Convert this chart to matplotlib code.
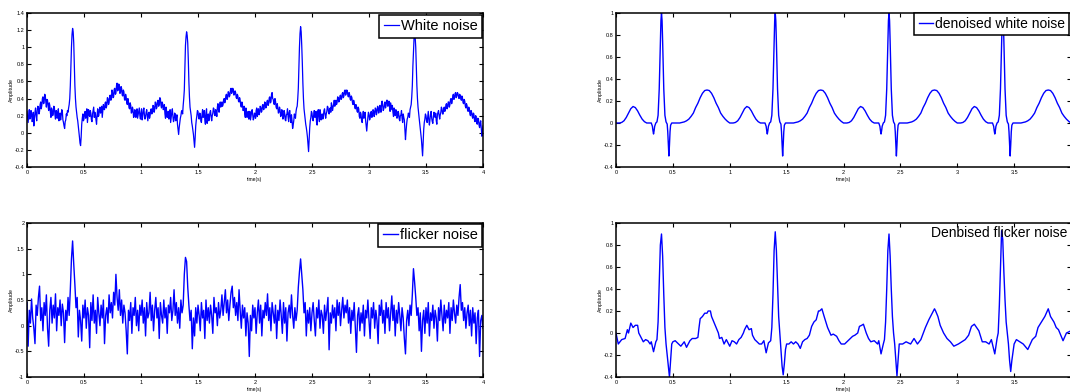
import numpy as np
import matplotlib
matplotlib.use("Agg")
import matplotlib.pyplot as plt
from matplotlib.ticker import FuncFormatter

plt.rcParams['font.family'] = ['Liberation Sans', 'DejaVu Sans']
plt.rcParams['axes.unicode_minus'] = False

# ---- data ---------------------------------------------------------------

# ECG + white noise, one sample every 5 ms from 0 to 4 s
white_noise = [
    0.25, 0.18, 0.12, 0.21, 0.27, 0.16, 0.18, 0.26, 0.22, 0.13, 0.15, 0.24, 0.08, 0.17, 0.24, 0.29, 0.20, 0.14, 0.26, 0.31,
    0.30, 0.22, 0.25, 0.33, 0.36, 0.28, 0.32, 0.40, 0.42, 0.34, 0.35, 0.45, 0.44, 0.36, 0.30, 0.39, 0.38, 0.31, 0.26, 0.35,
    0.32, 0.24, 0.18, 0.29, 0.27, 0.20, 0.22, 0.31, 0.30, 0.21, 0.16, 0.26, 0.25, 0.17, 0.20, 0.28, 0.14, 0.19, 0.23, 0.15,
    0.20, 0.27, 0.25, 0.15, 0.12, 0.08, 0.05, 0.13, 0.15, 0.22, 0.20, 0.26, 0.24, 0.29, 0.33, 0.40, 0.55, 0.78, 1.00, 1.15,
    1.22, 1.18, 1.05, 0.80, 0.55, 0.40, 0.30, 0.24, 0.18, 0.14, 0.08, 0.02, -0.05, -0.12, -0.15, -0.05, 0.10, 0.17, 0.22, 0.14,
    0.16, 0.23, 0.25, 0.17, 0.20, 0.28, 0.12, 0.19, 0.27, 0.21, 0.19, 0.26, 0.23, 0.15, 0.13, 0.22, 0.26, 0.30, 0.18, 0.24,
    0.22, 0.15, 0.10, 0.21, 0.28, 0.19, 0.20, 0.27, 0.30, 0.23, 0.24, 0.31, 0.18, 0.26, 0.33, 0.28, 0.27, 0.35, 0.36, 0.29,
    0.32, 0.41, 0.40, 0.33, 0.35, 0.43, 0.44, 0.38, 0.39, 0.50, 0.48, 0.41, 0.42, 0.51, 0.52, 0.45, 0.46, 0.55, 0.58, 0.49,
    0.50, 0.57, 0.55, 0.46, 0.47, 0.54, 0.52, 0.44, 0.43, 0.50, 0.48, 0.39, 0.38, 0.45, 0.42, 0.35, 0.33, 0.40, 0.36, 0.29,
    0.28, 0.35, 0.32, 0.23, 0.24, 0.30, 0.27, 0.18, 0.19, 0.27, 0.26, 0.18, 0.22, 0.28, 0.17, 0.21, 0.25, 0.29, 0.20, 0.16,
    0.23, 0.28, 0.15, 0.19, 0.26, 0.29, 0.21, 0.16, 0.18, 0.24, 0.27, 0.20, 0.14, 0.22, 0.24, 0.17, 0.20, 0.27, 0.28, 0.22,
    0.25, 0.32, 0.31, 0.24, 0.27, 0.36, 0.35, 0.28, 0.30, 0.37, 0.38, 0.31, 0.33, 0.41, 0.40, 0.32, 0.29, 0.36, 0.34, 0.27,
    0.28, 0.33, 0.22, 0.17, 0.30, 0.25, 0.18, 0.24, 0.25, 0.16, 0.20, 0.27, 0.12, 0.18, 0.24, 0.28, 0.19, 0.13, 0.15, 0.23,
    0.22, 0.14, 0.16, 0.21, 0.10, 0.04, -0.02, 0.06, 0.12, 0.17, 0.20, 0.25, 0.26, 0.22, 0.32, 0.40, 0.50, 0.75, 1.02, 1.12,
    1.18, 1.14, 1.05, 0.85, 0.60, 0.42, 0.30, 0.25, 0.20, 0.12, 0.08, 0.03, -0.02, -0.10, -0.17, -0.06, 0.08, 0.15, 0.20, 0.26,
    0.25, 0.18, 0.16, 0.23, 0.22, 0.14, 0.12, 0.21, 0.27, 0.18, 0.20, 0.26, 0.15, 0.10, 0.24, 0.28, 0.11, 0.16, 0.22, 0.14,
    0.18, 0.24, 0.26, 0.19, 0.14, 0.20, 0.23, 0.29, 0.28, 0.21, 0.20, 0.27, 0.25, 0.19, 0.30, 0.34, 0.27, 0.24, 0.32, 0.36,
    0.30, 0.34, 0.36, 0.31, 0.33, 0.39, 0.40, 0.35, 0.38, 0.44, 0.45, 0.39, 0.41, 0.48, 0.47, 0.42, 0.44, 0.50, 0.52, 0.46,
    0.48, 0.52, 0.50, 0.44, 0.45, 0.49, 0.47, 0.41, 0.40, 0.45, 0.43, 0.37, 0.36, 0.41, 0.38, 0.32, 0.30, 0.36, 0.33, 0.26,
    0.27, 0.31, 0.22, 0.18, 0.29, 0.24, 0.18, 0.23, 0.25, 0.16, 0.20, 0.25, 0.15, 0.19, 0.24, 0.27, 0.21, 0.15, 0.17, 0.23,
    0.22, 0.17, 0.26, 0.29, 0.19, 0.24, 0.28, 0.21, 0.23, 0.31, 0.30, 0.24, 0.25, 0.32, 0.33, 0.27, 0.28, 0.36, 0.35, 0.29,
    0.31, 0.37, 0.38, 0.32, 0.34, 0.41, 0.42, 0.35, 0.36, 0.45, 0.47, 0.40, 0.39, 0.34, 0.33, 0.40, 0.37, 0.30, 0.28, 0.34,
    0.30, 0.23, 0.24, 0.30, 0.27, 0.19, 0.20, 0.27, 0.25, 0.16, 0.18, 0.26, 0.23, 0.15, 0.14, 0.21, 0.22, 0.28, 0.19, 0.13,
    0.24, 0.26, 0.17, 0.12, 0.21, 0.14, 0.05, 0.09, 0.14, 0.22, 0.20, 0.17, 0.25, 0.29, 0.31, 0.40, 0.52, 0.78, 1.00, 1.16,
    1.24, 1.18, 1.02, 0.82, 0.58, 0.40, 0.28, 0.22, 0.16, 0.10, 0.06, 0.01, -0.05, -0.14, -0.22, -0.08, 0.06, 0.14, 0.18, 0.25,
    0.23, 0.16, 0.14, 0.21, 0.26, 0.18, 0.19, 0.25, 0.12, 0.09, 0.24, 0.27, 0.18, 0.13, 0.27, 0.23, 0.15, 0.20, 0.22, 0.16,
    0.20, 0.26, 0.28, 0.21, 0.17, 0.22, 0.25, 0.31, 0.30, 0.24, 0.22, 0.28, 0.29, 0.24, 0.35, 0.32, 0.26, 0.30, 0.33, 0.38,
    0.31, 0.35, 0.38, 0.33, 0.35, 0.42, 0.41, 0.36, 0.37, 0.43, 0.44, 0.39, 0.40, 0.46, 0.47, 0.41, 0.43, 0.49, 0.50, 0.44,
    0.46, 0.50, 0.49, 0.43, 0.42, 0.47, 0.45, 0.39, 0.38, 0.43, 0.41, 0.35, 0.33, 0.38, 0.36, 0.30, 0.28, 0.33, 0.31, 0.25,
    0.24, 0.30, 0.28, 0.19, 0.17, 0.24, 0.22, 0.14, 0.12, 0.20, 0.25, 0.17, 0.20, 0.24, 0.15, 0.08, 0.02, 0.10, 0.18, 0.24,
    0.22, 0.15, 0.17, 0.23, 0.25, 0.18, 0.20, 0.27, 0.26, 0.19, 0.22, 0.29, 0.28, 0.21, 0.24, 0.31, 0.30, 0.23, 0.26, 0.32,
    0.29, 0.24, 0.34, 0.37, 0.31, 0.26, 0.28, 0.34, 0.36, 0.29, 0.32, 0.38, 0.38, 0.31, 0.33, 0.37, 0.30, 0.25, 0.35, 0.31,
    0.27, 0.32, 0.24, 0.19, 0.29, 0.24, 0.20, 0.27, 0.26, 0.17, 0.18, 0.25, 0.23, 0.16, 0.14, 0.20, 0.21, 0.26, 0.17, 0.12,
    0.22, 0.18, 0.15, 0.04, -0.08, 0.02, 0.10, 0.16, 0.18, 0.23, 0.22, 0.18, 0.27, 0.30, 0.33, 0.42, 0.55, 0.78, 0.95, 1.10,
    1.18, 1.12, 1.00, 0.78, 0.55, 0.40, 0.30, 0.23, 0.17, 0.11, 0.05, -0.02, -0.08, -0.18, -0.27, -0.10, 0.04, 0.12, 0.16, 0.22,
    0.20, 0.14, 0.12, 0.19, 0.25, 0.15, 0.09, 0.16, 0.22, 0.25, 0.17, 0.13, 0.11, 0.19, 0.24, 0.20, 0.18, 0.23, 0.14, 0.10,
    0.21, 0.24, 0.26, 0.20, 0.16, 0.21, 0.24, 0.30, 0.28, 0.22, 0.22, 0.28, 0.30, 0.25, 0.27, 0.33, 0.34, 0.28, 0.30, 0.36,
    0.36, 0.30, 0.33, 0.39, 0.40, 0.34, 0.37, 0.43, 0.45, 0.39, 0.41, 0.46, 0.47, 0.41, 0.43, 0.47, 0.46, 0.42, 0.40, 0.45,
    0.44, 0.40, 0.38, 0.43, 0.41, 0.35, 0.34, 0.39, 0.37, 0.31, 0.29, 0.34, 0.32, 0.26, 0.25, 0.30, 0.28, 0.22, 0.20, 0.26,
    0.24, 0.19, 0.17, 0.23, 0.22, 0.15, 0.13, 0.20, 0.19, 0.11, 0.10, 0.17, 0.16, 0.09, 0.06, 0.12, 0.14, 0.05, -0.04, 0.03,
    0.08,
]

# ECG + flicker noise, one sample every 10 ms
flicker_noise = [
    0.45, -0.40, 0.30, 0.05, 0.52, 0.15, -0.05, -0.35, 0.40, 0.20,
    0.55, 0.77, 0.10, 0.35, -0.10, 0.45, 0.20, 0.60, -0.05, -0.40,
    0.30, 0.55, 0.05, 0.40, 0.15, 0.62, -0.10, 0.35, 0.20, 0.50,
    0.00, 0.42, 0.25, -0.33, 0.30, 0.10, 0.55, 0.20, 0.70, 1.30,
    1.65, 1.20, 0.80, 0.35, 0.55, -0.22, 0.30, 0.10, -0.30, 0.40,
    0.15, 0.50, -0.05, 0.35, 0.20, -0.43, 0.45, 0.10, 0.60, 0.05,
    0.30, -0.15, 0.55, 0.25, 0.00, 0.40, 0.15, 0.50, -0.35, 0.20,
    0.35, 0.05, 0.60, 0.25, 0.45, 0.15, 0.65, 0.40, 1.00, 0.55,
    0.30, 0.70, 0.20, 0.50, 0.05, 0.40, 0.25, -0.10, -0.55, 0.30,
    0.10, 0.45, -0.15, 0.35, 0.20, 0.55, 0.00, 0.30, -0.10, 0.40,
    0.20, 0.50, 0.05, 0.35, -0.20, 0.45, 0.15, 0.25, 0.65, 0.10,
    0.40, -0.10, 0.30, 0.55, 0.15, 0.35, -0.25, 0.45, 0.20, 0.05,
    0.50, 0.15, 0.35, -0.15, 0.40, 0.25, 0.55, 0.10, 0.30, 0.70,
    0.20, 0.45, 0.05, 0.35, -0.05, 0.50, 0.25, 0.40, 1.00, 1.33,
    1.25, 0.75, 0.40, 0.10, 0.30, -0.45, 0.15, -0.20, 0.35, 0.05,
    0.40, 0.20, -0.10, 0.45, 0.15, 0.30, -0.25, 0.50, 0.10, 0.35,
    0.05, 0.40, 0.20, -0.15, 0.55, 0.25, 0.35, 0.00, 0.45, 0.15,
    0.30, 0.60, 0.20, 0.45, 0.70, 0.25, 0.50, 0.10, 0.40, 0.65,
    0.77, 0.35, 0.55, 0.20, 0.45, 0.10, 0.70, 0.30, -0.05, 0.40,
    0.15, 0.35, -0.20, 0.25, 0.05, -0.60, 0.20, -0.10, 0.40, 0.15,
    0.35, -0.15, 0.25, 0.50, 0.05, 0.40, -0.20, 0.30, 0.15, 0.45,
    0.20, 0.62, 0.10, 0.35, -0.10, 0.45, 0.25, 0.05, 0.40, -0.25,
    0.30, 0.10, 0.50, 0.20, -0.15, 0.45, 0.05, 0.35, -0.30, 0.25,
    0.40, 0.15, 0.60, 0.20, -0.05, 0.35, 0.10, 0.30, 0.75, 1.05,
    1.30, 1.00, 0.70, 0.25, 0.45, -0.20, 0.30, 0.05, 0.35, -0.10,
    0.25, 0.45, 0.10, -0.20, 0.35, 0.15, 0.50, -0.05, 0.30, 0.20,
    -0.15, 0.40, 0.10, 0.30, 0.55, -0.47, 0.25, 0.05, 0.40, 0.15,
    0.35, -0.10, 0.50, 0.20, 0.45, 0.00, 0.30, 0.55, 0.15, 0.40,
    0.25, 0.50, 0.05, 0.35, -0.15, 0.30, 0.10, 0.45, -0.05, -0.52,
    0.20, 0.35, -0.10, 0.25, 0.05, 0.40, -0.20, 0.30, 0.15, 0.50,
    0.10, -0.25, 0.35, 0.15, 0.45, -0.05, 0.30, 0.10, -0.35, 0.40,
    0.20, 0.50, 0.05, 0.30, -0.15, 0.45, 0.15, 0.35, -0.10, 0.25,
    0.58, 0.10, 0.40, -0.20, 0.30, 0.05, 0.45, 0.20, -0.10, 0.35,
    0.15, -0.25, -0.55, 0.10, 0.30, 0.00, 0.40, 0.20, 0.60, 1.11,
    0.85, 0.55, 0.20, 0.35, -0.10, 0.25, -0.50, 0.10, 0.30, -0.15,
    0.35, 0.05, 0.45, -0.20, 0.25, 0.10, 0.40, -0.05, 0.30, 0.15,
    -0.30, 0.35, 0.10, 0.50, 0.20, -0.10, 0.40, 0.05, 0.30, 0.15,
    0.45, -0.15, 0.35, 0.10, 0.50, 0.25, 0.05, 0.40, 0.20, 0.55,
    0.80, 0.30, 0.45, 0.10, 0.35, -0.05, 0.25, 0.40, 0.00, 0.30,
    -0.20, 0.35, 0.05, 0.25, -0.35, 0.15, 0.30, -0.60, 0.10, 0.20,
    -0.05,
]

# denoised white noise: one clean beat (time within beat, amplitude)
beat_t = [0.00, 0.03, 0.05, 0.07, 0.09, 0.11, 0.13, 0.15, 0.17, 0.19,
          0.21, 0.23, 0.25, 0.27, 0.31, 0.32, 0.325, 0.33, 0.335, 0.34,
          0.35, 0.36, 0.37, 0.38, 0.385, 0.39, 0.395, 0.40, 0.405, 0.41,
          0.415, 0.42, 0.43, 0.44, 0.45, 0.455, 0.46, 0.465, 0.47, 0.475,
          0.48, 0.49, 0.56, 0.58, 0.60, 0.62, 0.64, 0.66, 0.68, 0.70,
          0.72, 0.74, 0.76, 0.78, 0.80, 0.82, 0.84, 0.86, 0.88, 0.90,
          0.92, 0.94, 0.96, 0.98]
beat_v = [0.0, 0.0, 0.005, 0.02, 0.05, 0.09, 0.13, 0.15, 0.14, 0.11,
          0.07, 0.035, 0.012, 0.0, 0.0, -0.03, -0.07, -0.10, -0.07, -0.03,
          0.0, 0.01, 0.07, 0.31, 0.51, 0.74, 0.93, 1.0, 0.93, 0.74,
          0.51, 0.31, 0.07, 0.01, -0.01, -0.08, -0.20, -0.30, -0.20, -0.08,
          -0.02, 0.0, 0.0, 0.005, 0.01, 0.02, 0.035, 0.06, 0.09, 0.14,
          0.18, 0.23, 0.27, 0.295, 0.30, 0.295, 0.27, 0.23, 0.18, 0.14,
          0.09, 0.06, 0.035, 0.015]
beat_onsets = [0, 1, 2, 3]

# denoised flicker noise (time, amplitude)
den_flicker_t = [
    0.00, 0.02, 0.05, 0.08, 0.10, 0.11, 0.13, 0.15, 0.17, 0.19,
    0.20, 0.22, 0.24, 0.26, 0.28, 0.30, 0.31, 0.33, 0.35, 0.36,
    0.37, 0.38, 0.39, 0.40, 0.41, 0.42, 0.43, 0.44, 0.45, 0.46,
    0.47, 0.48, 0.49, 0.50, 0.52, 0.55, 0.57, 0.60, 0.62, 0.65,
    0.67, 0.70, 0.72, 0.73, 0.74, 0.76, 0.78, 0.80, 0.81, 0.83,
    0.84, 0.86, 0.88, 0.90, 0.91, 0.93, 0.95, 0.97, 1.00, 1.02,
    1.04, 1.06, 1.08, 1.10, 1.12, 1.13, 1.15, 1.17, 1.19, 1.20,
    1.22, 1.24, 1.26, 1.28, 1.30, 1.32, 1.34, 1.36, 1.37, 1.38,
    1.39, 1.40, 1.41, 1.42, 1.43, 1.44, 1.45, 1.46, 1.47, 1.48,
    1.49, 1.50, 1.52, 1.54, 1.56, 1.58, 1.60, 1.62, 1.64, 1.66,
    1.68, 1.70, 1.72, 1.74, 1.76, 1.78, 1.79, 1.81, 1.83, 1.86,
    1.89, 1.91, 1.94, 1.96, 1.98, 2.01, 2.05, 2.08, 2.10, 2.125,
    2.14, 2.16, 2.175, 2.20, 2.22, 2.24, 2.27, 2.30, 2.31, 2.33,
    2.35, 2.36, 2.37, 2.38, 2.39, 2.40, 2.41, 2.42, 2.43, 2.44,
    2.45, 2.46, 2.47, 2.48, 2.49, 2.52, 2.55, 2.59, 2.62, 2.65,
    2.68, 2.72, 2.75, 2.78, 2.80, 2.81, 2.83, 2.85, 2.88, 2.91,
    2.94, 2.97, 3.01, 3.04, 3.07, 3.10, 3.125, 3.15, 3.17, 3.19,
    3.22, 3.25, 3.28, 3.30, 3.33, 3.35, 3.36, 3.37, 3.38, 3.39,
    3.40, 3.41, 3.42, 3.43, 3.45, 3.46, 3.47, 3.48, 3.50, 3.52,
    3.55, 3.58, 3.62, 3.66, 3.69, 3.71, 3.74, 3.77, 3.80, 3.82,
    3.85, 3.87, 3.89, 3.91, 3.93, 3.96, 4.00,
]
den_flicker_v = [
    0.00, -0.10, -0.06, -0.05, 0.03, 0.00, 0.09, 0.05, 0.07, 0.07,
    0.00, -0.04, -0.08, -0.06, -0.07, -0.10, -0.08, -0.17, -0.08, -0.06,
    0.10, 0.45, 0.80, 0.90, 0.70, 0.35, 0.05, -0.10, -0.20, -0.30,
    -0.40, -0.25, -0.10, -0.08, -0.07, -0.10, -0.12, -0.08, -0.13, -0.07,
    -0.05, -0.05, -0.04, 0.05, 0.13, 0.15, 0.18, 0.18, 0.20, 0.20,
    0.15, 0.10, 0.05, 0.00, -0.05, -0.04, -0.10, -0.06, -0.12, -0.07,
    -0.08, -0.10, -0.06, -0.04, 0.00, 0.03, 0.07, 0.03, 0.04, -0.02,
    -0.06, -0.08, -0.10, -0.10, -0.07, -0.18, -0.09, -0.07, 0.05, 0.35,
    0.75, 0.92, 0.75, 0.45, 0.15, 0.00, -0.15, -0.30, -0.38, -0.28,
    -0.15, -0.10, -0.10, -0.08, -0.10, -0.08, -0.10, -0.14, -0.08, -0.06,
    -0.05, -0.02, 0.06, 0.10, 0.12, 0.20, 0.20, 0.22, 0.15, 0.05,
    -0.02, -0.01, -0.03, -0.07, -0.10, -0.10, -0.06, -0.03, -0.02, 0.00,
    0.06, 0.07, 0.08, 0.00, -0.05, -0.08, -0.07, -0.10, -0.07, -0.19,
    -0.10, -0.06, 0.10, 0.40, 0.75, 0.90, 0.70, 0.40, 0.15, 0.00,
    -0.10, -0.25, -0.39, -0.25, -0.10, -0.10, -0.08, -0.10, -0.05, -0.10,
    -0.06, 0.05, 0.12, 0.18, 0.22, 0.20, 0.15, 0.07, 0.00, -0.05,
    -0.08, -0.12, -0.10, -0.08, -0.06, -0.02, 0.06, 0.08, 0.05, 0.02,
    -0.08, -0.08, -0.10, -0.06, -0.19, -0.05, 0.00, 0.25, 0.60, 0.93,
    0.85, 0.55, 0.30, 0.10, -0.10, -0.25, -0.35, -0.25, -0.10, -0.06,
    -0.08, -0.10, -0.15, -0.06, -0.03, 0.05, 0.10, 0.15, 0.22, 0.15,
    0.10, 0.05, 0.03, -0.02, -0.07, 0.00, 0.02,
]

legend_labels = ['White noise', 'flicker noise', 'denoised white noise', 'Denbised flicker noise']
x_ticks = [0, 0.5, 1, 1.5, 2, 2.5, 3, 3.5, 4]
y_ticks_white = [-0.4, -0.2, 0, 0.2, 0.4, 0.6, 0.8, 1, 1.2, 1.4]
y_ticks_flicker = [-1, -0.5, 0, 0.5, 1, 1.5, 2]
y_ticks_denoised = [-0.4, -0.2, 0, 0.2, 0.4, 0.6, 0.8, 1]

# ---- layout (pixel boxes of the 1070x392 reference) -----------------------
W, H = 1070, 392
BLUE = '#0000ff'


def px_rect(left, top, right, bottom):
    return [left / W, 1 - bottom / H, (right - left) / W, (bottom - top) / H]


def style_axes(ax, yticks, cut_right=False):
    """MATLAB-like look: inward ticks on every side, tiny labels."""
    ax.set_xlim(0, 4)
    ax.set_ylim(yticks[0], yticks[-1])
    ax.set_xticks(x_ticks)
    ax.set_yticks(yticks)
    # the right column runs off the page, so its last x label is not seen
    xfmt = FuncFormatter(lambda v, pos: '' if (cut_right and v == 4) else '%g' % v)
    ax.xaxis.set_major_formatter(xfmt)
    ax.yaxis.set_major_formatter(FuncFormatter(lambda v, pos: '%g' % v))
    ax.tick_params(direction='in', length=3, width=0.8, labelsize=4,
                   top=True, right=True, pad=2)
    for sp in ax.spines.values():
        sp.set_linewidth(1.1)
    ax.set_xlabel('time(s)', fontsize=3.6)
    ax.set_ylabel('Amplitude', fontsize=3.8)
    ax.xaxis.set_label_coords(0.5, -0.062)
    ax.yaxis.set_label_coords(-0.029, 0.5)


def add_legend(fig, ax, label, anchor, loc, size=10.5):
    leg = ax.legend([ax.lines[0]], [label], loc=loc,
                    bbox_to_anchor=(anchor[0] / W, 1 - anchor[1] / H),
                    bbox_transform=fig.transFigure, borderaxespad=0,
                    fontsize=size, handlelength=1.05, handletextpad=0.12,
                    borderpad=0.3, fancybox=False, framealpha=1,
                    edgecolor='black')
    leg.get_frame().set_linewidth(1.1)


def main():
    fig = plt.figure(figsize=(W / 100, H / 100), dpi=100)

    ax1 = fig.add_axes(px_rect(27, 13, 483, 167))
    ax1.plot(np.linspace(0, 4, len(white_noise)), white_noise, color=BLUE, lw=0.9)
    style_axes(ax1, y_ticks_white)
    add_legend(fig, ax1, legend_labels[0], (482, 15), 'upper right')

    ax2 = fig.add_axes(px_rect(27, 223, 483, 377))
    ax2.plot(np.linspace(0, 4, len(flicker_noise)), flicker_noise, color=BLUE, lw=1.0)
    style_axes(ax2, y_ticks_flicker)
    add_legend(fig, ax2, legend_labels[1], (482, 224), 'upper right')

    # periodic clean beat repeated at each onset
    clean_t = np.concatenate([np.array(beat_t) + k for k in beat_onsets] + [[4.0]])
    clean_v = np.concatenate([beat_v for _ in beat_onsets] + [[0.0]])
    ax3 = fig.add_axes(px_rect(616, 13, 1071, 167))
    ax3.plot(clean_t, clean_v, color=BLUE, lw=1.0)
    style_axes(ax3, y_ticks_denoised, cut_right=True)
    add_legend(fig, ax3, legend_labels[2], (1069, 13), 'upper right', size=10)

    ax4 = fig.add_axes(px_rect(616, 223, 1071, 377))
    ax4.plot(den_flicker_t, den_flicker_v, color=BLUE, lw=1.0)
    style_axes(ax4, y_ticks_denoised, cut_right=True)
    # the last legend only shows its text in the reference
    fig.text(931 / W, 1 - 237 / H, legend_labels[3], fontsize=10, va='baseline')

    fig.savefig('out.png', dpi=100)


if __name__ == '__main__':
    main()
